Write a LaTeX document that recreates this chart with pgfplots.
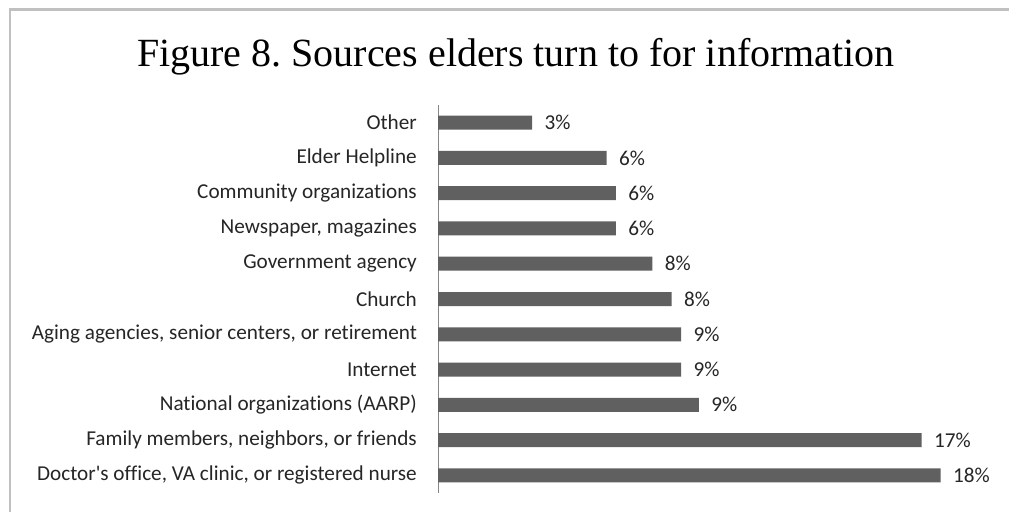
\documentclass[border=0pt]{standalone}
\usepackage{fontspec}
\setmainfont{Carlito}[Ligatures={NoCommon}]
\newfontfamily\titlefont{Liberation Serif}
\usepackage{pgfplots}
\usepackage{pgfplotstable}
\pgfplotsset{compat=1.18}
\definecolor{barcol}{HTML}{606060}
\definecolor{axcol}{HTML}{868686}
\definecolor{framecol}{HTML}{C0C0C0}
\pgfplotstableread{
pos val lab
0  17.95 18
1  17.27 17
2  9.32  9
3  8.68  9
4  8.68  9
5  8.34  8
6  7.66  8
7  6.35  6
8  6.35  6
9  6.02  6
10 3.36  3
}\sources
\begin{document}
\frenchspacing
\begin{tikzpicture}[x=1pt,y=1pt]
\path[use as bounding box, fill=white] (0,0) rectangle (1009,512);
\draw[framecol, line width=2.5pt] (10,0) -- (10,502.3) -- (1009,502.3);
\node[anchor=base, inner sep=0pt] at (516,445.3) {\titlefont\fontsize{40}{48}\selectfont Figure 8. Sources elders turn to for information};
\begin{axis}[
  at={(438pt,19pt)}, anchor=south west,
  scale only axis, width=560pt, height=388pt,
  xmin=0, xmax=20, ymin=-0.5, ymax=10.5,
  xbar, bar width=14pt,
  axis lines*=left,
  hide x axis,
  y axis line style={draw=axcol, line width=1pt},
  ytick={0,...,10},
  yticklabels={{Doctor\textquotesingle s office, VA clinic, or registered nurse},
    {Family members, neighbors, or friends},
    {National organizations (AARP)},
    {Internet},
    {Aging agencies, senior centers, or retirement},
    {Church},
    {Government agency},
    {Newspaper, magazines},
    {Community organizations},
    {Elder Helpline},
    {Other}},
  major tick length=0pt,
  ytick style={draw=none},
  yticklabel style={font=\fontsize{21.2}{25}\selectfont, inner sep=0pt, text=black!85},
  yticklabel shift=21pt,
  point meta=explicit symbolic,
  nodes near coords={\pgfplotspointmeta\%},
  nodes near coords style={font=\fontsize{21.2}{25}\selectfont, anchor=west, inner sep=0pt, xshift=12.3pt, text=black!85},
  clip=false,
]
\addplot[fill=barcol, draw=none] table[x=val, y=pos, meta=lab] {\sources};
\end{axis}
\end{tikzpicture}
\end{document}
